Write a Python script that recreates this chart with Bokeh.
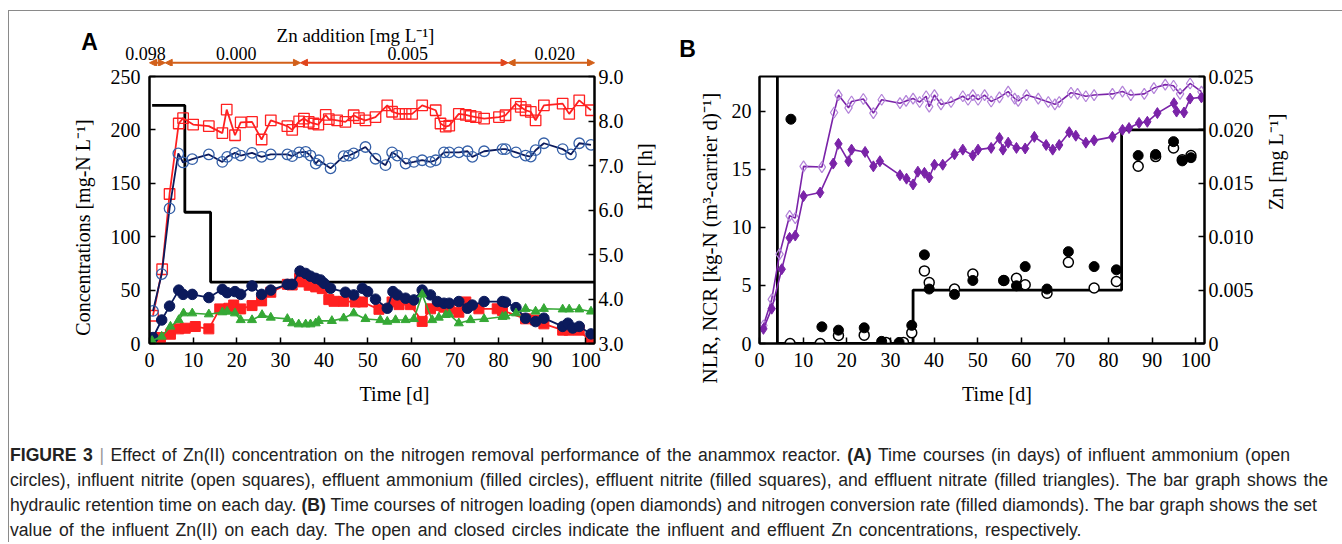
import numpy as np
from bokeh.plotting import figure
from bokeh.models import (Range1d, LinearAxis, FixedTicker, PrintfTickFormatter,
                          Arrow, NormalHead, Div, Title)
from bokeh.layouts import row, column
from bokeh.embed import file_html
from bokeh.resources import INLINE
from bokeh.core.properties import value

# ---------------- Panel A data ----------------
inf_nitrite_d = [0.8, 2.9, 4.6, 6.7, 7.7, 10.0, 13.6, 16.7, 17.7, 19.6, 20.9, 23.5, 25.7, 27.8, 31.6, 32.7,
                 34.3, 35.4, 36.5, 37.6, 38.7, 40.4, 41.1, 43.0, 44.9, 46.8, 48.0, 49.5, 51.8, 54.5, 55.6,
                 57.2, 58.7, 60.2, 62.5, 65.6, 66.7, 67.9, 68.7, 70.9, 72.5, 73.6, 74.8, 76.7, 80.1, 81.6,
                 84.0, 85.1, 86.2, 87.4, 88.5, 90.4, 94.7, 96.2, 98.5, 101.2]
inf_nitrite_v = [26, 69.5, 140, 206, 211, 205, 203.5, 197, 219, 195, 207, 207.5, 191, 209, 203.5, 200,
                 208, 210.6, 207.5, 206, 205, 214, 210, 209, 207.5, 213.7, 211, 209, 212, 223, 217,
                 215, 215, 215, 223, 218.4, 206, 203, 204, 215, 214, 213, 212, 210.6, 212, 213.7,
                 224.6, 221.5, 218.4, 216.8, 209, 223, 224.6, 215, 227.7, 218.4]

inf_ammonium_d = [0.8, 2.8, 4.6, 6.6, 7.7, 9.8, 13.6, 16.7, 17.8, 19.6, 20.9, 23.5, 25.7, 27.8, 31.6, 32.7,
                  34.3, 35.8, 36.9, 38.1, 38.8, 41.5, 44.5, 45.7, 46.8, 49.5, 51.8, 54.1, 55.6, 56.8, 58.7,
                  60.6, 62.5, 64.4, 65.6, 67.5, 68.7, 70.9, 72.9, 74.0, 76.7, 80.9, 81.6, 84.0, 86.2, 87.4,
                  88.5, 90.4, 94.7, 96.6, 98.5, 101.2]
inf_ammonium_v = [30.5, 65, 126.5, 178, 169.5, 172.6, 177, 170, 174.8, 178.5, 176, 178.5, 174.8, 177, 177, 175.4,
                  179, 179.5, 176, 168.5, 171.6, 164, 175.4, 176, 178, 184, 173, 167, 179, 176, 168.5,
                  170, 171.6, 170, 171.6, 179, 179, 179, 180, 174.8, 180, 182, 182, 179, 176, 175,
                  181, 187.5, 182, 177, 187.5, 186]

eff_ammonium_d = [0.8, 2.8, 4.6, 6.7, 7.7, 9.8, 13.6, 16.7, 17.8, 19.6, 20.9, 23.5, 25.7, 27.8, 31.6, 32.7,
                  34.5, 35.8, 36.9, 38.1, 39.2, 40.0, 41.5, 44.9, 46.8, 48.8, 50.0, 51.8, 54.5, 55.8, 56.8,
                  58.7, 60.6, 62.5, 64.4, 66.0, 67.5, 68.7, 70.9, 72.9, 74.0, 76.7, 80.9, 81.6, 84.0, 86.2,
                  88.5, 90.4, 94.7, 95.9, 97.0, 98.5, 101.2]
eff_ammonium_v = [5.6, 22, 35, 50, 46, 46, 43, 50.7, 47.6, 48.6, 46, 53.9, 46, 50, 55.4, 55.4,
                  67.8, 65.6, 63, 61, 59.5, 56.4, 51.7, 48, 45.5, 51.7, 48.6, 41.5, 33, 48.6, 45.5,
                  42.4, 40.8, 50, 45.5, 39.3, 37.7, 37.7, 39.3, 33, 36, 39.3, 39.3, 38.7, 33.6, 23.7,
                  20.5, 23.7, 16, 19, 14.5, 16, 9]

eff_nitrite_d = [0.6, 2.5, 4.8, 6.7, 8.2, 10.5, 13.6, 16.1, 18.2, 19.3, 20.9, 23.5, 25.7, 27.8, 31.6, 32.7,
                 34.4, 35.1, 36.6, 38.1, 39.6, 41.1, 42.3, 44.5, 47.2, 48.8, 52.6, 55.6, 57.2, 59.8, 62.5,
                 64.4, 66.0, 67.5, 68.7, 70.9, 72.5, 75.5, 79.7, 80.9, 86.2, 88.5, 90.4, 94.7, 96.2, 98.5,
                 101.2]
eff_nitrite_v = [5, 5.6, 8.7, 13.7, 14.3, 15.9, 13.7, 32.4, 33, 36, 32.4, 35.5, 39.9, 48, 55.4, 54.8,
                 61, 57.7, 54.5, 53, 51.4, 41.1, 39.5, 39.5, 38.9, 38.9, 32, 38.9, 36.4, 36.4, 20.7,
                 32.5, 35.5, 34, 32.5, 29.3, 38.9, 32.5, 32.5, 31, 23.1, 22, 18.4, 12.5, 12.5, 12.5,
                 1.6]

eff_nitrate_d = [0.6, 2.8, 4.8, 6.7, 7.8, 9.8, 13.6, 16.7, 17.8, 19.6, 20.9, 23.5, 25.8, 27.8, 31.6, 32.7,
                 34.2, 35.8, 36.9, 38.1, 38.8, 41.8, 44.5, 46.8, 49.5, 52.9, 54.5, 56.4, 58.7, 60.6, 62.5,
                 64.8, 66.3, 67.9, 68.7, 70.9, 73.6, 76.7, 80.9, 81.6, 84.0, 86.2, 88.5, 90.4, 94.7, 96.2,
                 98.5, 101.2]
eff_nitrate_v = [2.5, 6.5, 15.9, 22, 28.3, 28.3, 27.4, 29.3, 29.9, 28.3, 22, 22, 26.8, 24.3, 23.1, 19,
                 18, 18, 18, 19, 21.2, 21.2, 23.7, 28.3, 23, 22, 20.5, 22, 22, 23, 46,
                 22, 24.3, 26.8, 27.4, 19, 22, 23, 25, 25.5, 28.3, 32.5, 30, 32.5, 32, 32,
                 32, 30]

hrt_days = [0.6, 8.1, 14.0, 102]
hrt_vals = [8.35, 5.95, 4.38, 4.38]

zn_period_labels = ["0.098", "0.000", "0.005", "0.020"]
zn_period_start = [0.0, 3.6, 34.6, 82.2]
zn_period_end = [3.6, 34.6, 82.2, 102.0]

# ---------------- Panel B data ----------------
nlr_d = [0.9, 2.8, 4.6, 6.9, 8.2, 10.1, 14.3, 17.1, 18.1, 20.4, 21.1, 23.8, 26.1, 28.0, 32.2, 33.6,
         35.2, 36.7, 38.2, 38.9, 40.1, 41.6, 43.9, 46.6, 47.8, 48.9, 50.1, 51.6, 53.1, 55.0, 57.0,
         58.5, 59.3, 61.2, 63.9, 66.2, 67.7, 68.7, 71.4, 72.9, 74.8, 76.7, 80.9, 83.2, 85.1, 88.2,
         90.4, 93.0, 94.9, 96.4, 98.7, 101.3]
nlr_v = [1.55, 3.8, 7.7, 11.0, 10.8, 15.26, 15.2, 19.9, 21.4, 20.3, 20.85, 21.06, 19.85, 21.0, 20.7, 20.9,
         21.1, 20.8, 21.3, 20.4, 21.4, 20.6, 20.8, 21.3, 21.0, 21.4, 21.0, 21.4, 20.85, 21.2, 21.7,
         21.1, 20.9, 21.4, 21.1, 20.8, 20.6, 20.8, 21.6, 21.5, 21.3, 21.4, 21.5, 21.7, 21.4, 21.5,
         22.0, 22.3, 22.2, 21.5, 22.4, 21.7]

ncr_d = [0.9, 2.8, 5.1, 6.9, 8.2, 10.1, 13.9, 16.9, 18.1, 20.4, 21.1, 24.2, 26.1, 27.6, 32.2, 33.7,
         35.2, 36.3, 37.8, 38.9, 40.1, 42.0, 44.7, 46.6, 48.9, 50.1, 53.1, 55.0, 55.8, 57.0, 58.9,
         60.9, 63.0, 65.7, 67.2, 68.7, 71.0, 72.5, 74.8, 76.7, 80.9, 83.2, 84.7, 87.0, 88.9, 91.2,
         95.0, 95.6, 97.3, 98.7, 101.3]
ncr_v = [1.26, 3.0, 6.4, 9.1, 9.3, 12.7, 13.0, 15.5, 17.2, 15.7, 16.7, 16.5, 15.26, 15.7, 14.5, 14.2,
         13.7, 14.8, 14.7, 14.3, 15.4, 15.4, 16.3, 16.7, 16.2, 16.7, 16.85, 17.7, 16.7, 17.3, 16.85,
         16.8, 17.8, 17.1, 16.7, 17.1, 18.2, 17.9, 17.3, 17.5, 17.8, 18.4, 18.56, 19.0, 19.1, 19.85,
         20.7, 19.98, 19.9, 21.1, 21.2]

zn_in_d = [7.0, 13.9, 18.1, 24.0, 29.0, 33.0, 34.9, 37.8, 38.9, 44.7, 48.9, 56.0, 58.9, 60.9, 65.9,
           70.8, 76.7, 81.8, 86.8, 90.8, 94.9, 96.9, 98.9]
zn_in_v = [0.0, 0.0, 0.00075, 0.00078, 0.0001, 0.0001, 0.001, 0.0068, 0.0057, 0.0051, 0.0065, 0.0059,
           0.0061, 0.0055, 0.0047, 0.0076, 0.0052, 0.0058, 0.0166, 0.0175, 0.0183, 0.0172, 0.0176]
zn_eff_d = [7.2, 14.3, 18.1, 24.0, 28.0, 32.0, 34.9, 37.8, 38.9, 44.7, 48.9, 56.0, 58.9, 60.9, 65.9,
            70.8, 76.7, 81.8, 86.8, 90.8, 94.9, 96.9, 98.9]
zn_eff_v = [0.021, 0.00156, 0.00125, 0.00147, 0.0002, 0.0001, 0.0017, 0.0083, 0.0051, 0.0046, 0.0059,
            0.0059, 0.0054, 0.0072, 0.0051, 0.0086, 0.0072, 0.0069, 0.0176, 0.0177, 0.0189, 0.0171, 0.0174]

zn_set_days = [0.0, 4.1, 35.2, 83.0, 102.0]
zn_set_vals = [0.098, 0.0, 0.005, 0.020, 0.020]

# ---------------- styling helpers ----------------
SERIF = "Liberation Serif"
SANS = "Liberation Sans"
NB = "\u00a0"
PXD = 445 / 102  # pixels per day inside both frames
X0 = 9           # page x of the content's left edge (inside the grey border)
Y0 = 11          # page y of the content's top edge


def style_axis(ax, ticks, standoff, title=None, title_standoff=10, size="20px", upward=False):
    ax.ticker = FixedTicker(ticks=ticks)
    ax.major_label_text_font = SERIF
    ax.major_label_text_font_size = size
    ax.major_label_text_color = "black"
    ax.major_tick_in = 6
    ax.major_tick_out = 0
    ax.minor_tick_line_color = None
    ax.axis_line_color = "black"
    ax.axis_line_width = 2
    ax.major_tick_line_color = "black"
    ax.major_tick_line_width = 1.5
    ax.major_label_standoff = standoff
    if title is not None:
        ax.axis_label = title
        ax.axis_label_text_font = SERIF
        ax.axis_label_text_font_size = "20px"
        ax.axis_label_text_font_style = "normal"
        ax.axis_label_text_color = "black"
        ax.axis_label_standoff = title_standoff
        if upward and "axis_label_orientation" in ax.properties():
            ax.axis_label_orientation = np.pi / 2


def base_fig(width, height, yr, bl, br, bt, bb):
    p = figure(width=width, height=height, x_range=Range1d(0, 102), y_range=yr,
               output_backend="svg", toolbar_location=None,
               min_border_left=bl, min_border_right=br, min_border_top=bt, min_border_bottom=bb)
    p.xgrid.visible = False
    p.ygrid.visible = False
    p.outline_line_color = "black"
    p.outline_line_width = 2
    p.outline_line_alpha = 1
    p.background_fill_color = "white"
    p.border_fill_color = "white"
    return p


def txt(s, x, y, t, size, font=SERIF, bold=False, align="center"):
    s.text(x=[x], y=[y], text=[t], text_font=value(font), text_font_size=value(size),
           text_font_style="bold" if bold else "normal", text_align=align,
           text_baseline="middle", text_color="black")


# ---------------- top strip (panel letters + Zn addition periods) ----------------
TOP_H = 55                   # page y 11 .. 66
ROW_TOP = Y0 + TOP_H         # 66
sy = lambda page_y: ROW_TOP - page_y   # strip y measured upward from the strip bottom
ax_day = lambda page_x: (page_x - 149) / PXD   # panel-A day coordinate of a page x

pTop = figure(width=1333, height=TOP_H, x_range=Range1d(ax_day(X0), ax_day(X0 + 1333)),
              y_range=Range1d(0, TOP_H), output_backend="svg", toolbar_location=None,
              x_axis_location=None, y_axis_location=None,
              min_border=0, min_border_left=0, min_border_right=0, min_border_top=0, min_border_bottom=0)
pTop.xgrid.visible = False
pTop.ygrid.visible = False
pTop.outline_line_color = None
pTop.background_fill_color = "white"
pTop.border_fill_color = "white"

ORANGE = ["#d2601a", "#d2601a", "#e0451c", "#d2601a"]
arrow_y = sy(62.3)
for i, (s0, e0, t) in enumerate(zip(zn_period_start, zn_period_end, zn_period_labels)):
    pTop.add_layout(Arrow(x_start=s0, y_start=arrow_y, x_end=e0, y_end=arrow_y,
                          line_color=ORANGE[i], line_width=2,
                          start=NormalHead(size=7, fill_color=ORANGE[i], line_color=ORANGE[i]),
                          end=NormalHead(size=7, fill_color=ORANGE[i], line_color=ORANGE[i])))
    xm = (s0 + e0) / 2 + (-2.7 if i == 0 else 0.8)
    txt(pTop, xm, sy(53), t, "18px")
txt(pTop, ax_day(355), sy(35), "Zn addition [mg L\u207b\u00b9]", "19px")
txt(pTop, ax_day(89), sy(41), "A", "23px", font=SANS, bold=True)
txt(pTop, ax_day(687), sy(48), "B", "23px", font=SANS, bold=True)

# ---------------- Panel A ----------------
FIG_H = 415 - ROW_TOP        # 349
pA = base_fig(661, FIG_H, Range1d(0, 250), 140, 76, 10, 72)
pA.extra_y_ranges = {"hrt": Range1d(3, 9)}
style_axis(pA.xaxis[0], list(range(0, 101, 10)), 9, NB * 9 + "Time [d]", 13)
style_axis(pA.yaxis[0], list(range(0, 251, 50)), 9, "Concentrations  [mg-N L\u207b\u00b9]" + NB * 6, 14)
rA = LinearAxis(y_range_name="hrt")
style_axis(rA, [3, 4, 5, 6, 7, 8, 9], 4, "HRT [h]", 18, upward=True)
rA.formatter = PrintfTickFormatter(format="%.1f")
pA.add_layout(rA, "right")

RED = "#ff2020"
NAVY = "#0b1a5c"
BLUE_OPEN = "#3560a8"
GREEN = "#35a835"

pA.step(hrt_days, hrt_vals, mode="after", y_range_name="hrt", line_color="black", line_width=2.8)
pA.line(inf_nitrite_d, inf_nitrite_v, line_color=RED, line_width=1.8)
pA.scatter(inf_nitrite_d, inf_nitrite_v, marker="square", size=10.5, fill_color=None,
           line_color=RED, line_width=1.3)
pA.line(inf_ammonium_d, inf_ammonium_v, line_color=NAVY, line_width=1.8)
pA.scatter(inf_ammonium_d, inf_ammonium_v, marker="circle", size=10.5, fill_color=None,
           line_color=BLUE_OPEN, line_width=1.3)
pA.line(eff_nitrite_d, eff_nitrite_v, line_color=RED, line_width=1.8)
pA.scatter(eff_nitrite_d, eff_nitrite_v, marker="square", size=10, fill_color=RED, line_color=RED)
pA.line(eff_ammonium_d, eff_ammonium_v, line_color=NAVY, line_width=1.8)
pA.scatter(eff_ammonium_d, eff_ammonium_v, marker="circle", size=10.5, fill_color=NAVY, line_color=NAVY)
pA.line(eff_nitrate_d, eff_nitrate_v, line_color=GREEN, line_width=1.6)
pA.scatter(eff_nitrate_d, eff_nitrate_v, marker="triangle", size=9, fill_color=GREEN, line_color=GREEN)

# ---------------- Panel B ----------------
pB = base_fig(672, FIG_H, Range1d(0, 23), 89, 138, 10, 72)
pB.extra_y_ranges = {"zn": Range1d(0, 0.025)}
style_axis(pB.xaxis[0], list(range(0, 101, 10)), 9, NB * 6 + "Time [d]", 13)
style_axis(pB.yaxis[0], [0, 5, 10, 15, 20], 8)
pB.add_layout(Title(text="NLR, NCR [kg-N (m\u00b3-carrier d)\u207b\u00b9]", align="left", offset=-40,
                    standoff=14, text_font=SERIF, text_font_size="21px", text_font_style="normal",
                    text_color="black"), "left")
rB = LinearAxis(y_range_name="zn")
style_axis(rB, [0, 0.005, 0.010, 0.015, 0.020, 0.025], 4, "Zn [mg L\u207b\u00b9]", 19, upward=True)
rB.formatter = PrintfTickFormatter(format="%.3f")
rB.major_label_overrides = {0: "0"}
pB.add_layout(rB, "right")

PURPLE = "#7a23a8"
PURPLE_LIGHT = "#b383d9"

pB.step(zn_set_days, zn_set_vals, mode="after", y_range_name="zn", line_color="black", line_width=2.8)
pB.line(nlr_d, nlr_v, line_color=PURPLE, line_width=1.6)
pB.scatter(nlr_d, nlr_v, marker="diamond", size=11, fill_color=None, line_color=PURPLE_LIGHT, line_width=1.2)
pB.line(ncr_d, ncr_v, line_color=PURPLE, line_width=1.6)
pB.scatter(ncr_d, ncr_v, marker="diamond", size=11, fill_color=PURPLE, line_color=PURPLE)
pB.scatter(zn_in_d, zn_in_v, y_range_name="zn", marker="circle", size=10, fill_color="white",
           line_color="black", line_width=1.5)
pB.scatter(zn_eff_d, zn_eff_v, y_range_name="zn", marker="circle", size=10, fill_color="black",
           line_color="black")

# ---------------- Caption ----------------
line_style = "display:block; text-align:justify; text-align-last:justify; white-space:nowrap;"
caption = (
    '<div style="font-family:\'Liberation Sans\', Arial, sans-serif; font-size:17.6px; line-height:25px;'
    ' color:#222; padding-top:28px; padding-left:1px; margin:0;">'
    f'<div style="{line_style} width:1280px;"><b>FIGURE 3</b> <span style="color:#999">|</span> Effect of Zn(II) '
    'concentration on the nitrogen removal performance of the anammox reactor. <b>(A)</b> Time courses '
    '(in days) of influent ammonium (open</div>'
    f'<div style="{line_style} width:1318px;">circles), influent nitrite (open squares), effluent ammonium '
    '(filled circles), effluent nitrite (filled squares), and effluent nitrate (filled triangles). The bar '
    'graph shows the</div>'
    f'<div style="{line_style} width:1307px;">hydraulic retention time on each day. <b>(B)</b> Time courses '
    'of nitrogen loading (open diamonds) and nitrogen conversion rate (filled diamonds). The bar graph '
    'shows the set</div>'
    '<div style="display:block; white-space:nowrap; word-spacing:2px;">value of the influent Zn(II) on each '
    'day. The open and closed circles indicate the influent and effluent Zn concentrations, '
    'respectively.</div></div>'
)
cap = Div(text=caption, width=1333, height=127, margin=(0, 0, 0, 0))

layout = column(pTop, row(pA, pB), cap, margin=(10, 0, 0, 8),
                styles={"border-top": "1px solid #8a8a8a", "border-left": "1px solid #8a8a8a"})

open("out.html", "w").write(file_html(layout, INLINE))
